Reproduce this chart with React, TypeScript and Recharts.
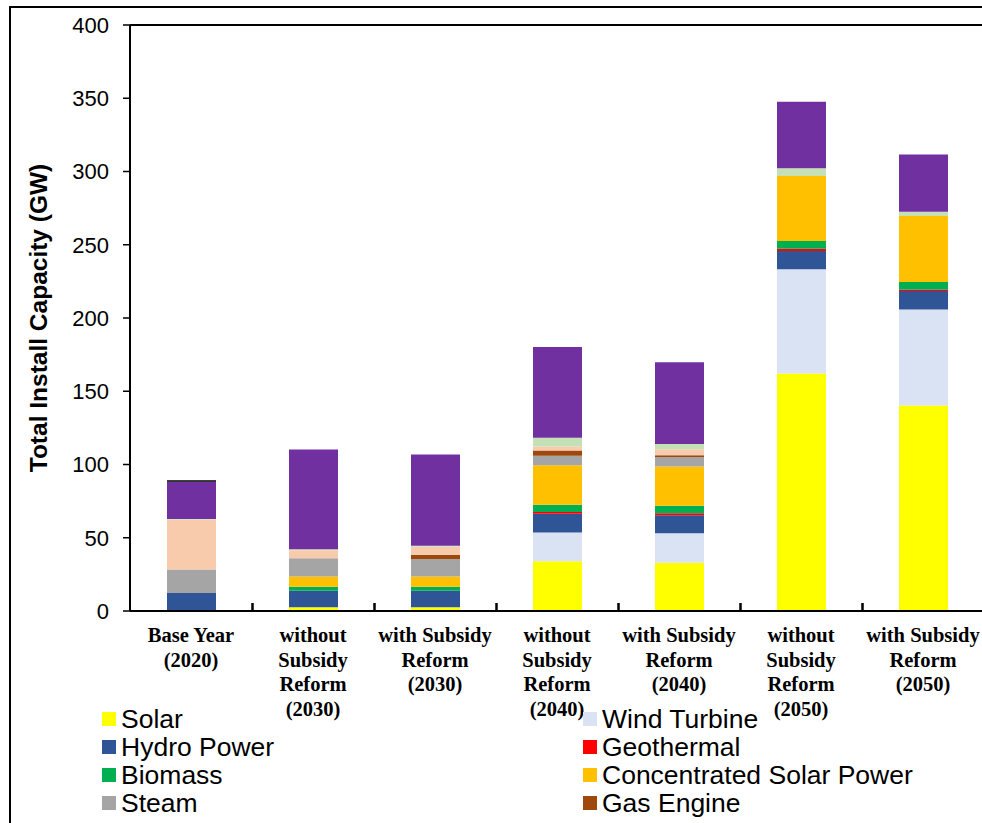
import React from "react";
import { BarChart, Bar, XAxis, YAxis, ReferenceLine, Label, Rectangle } from "recharts";

const categories = [
  "Base Year (2020)",
  "without Subsidy Reform (2030)",
  "with Subsidy Reform (2030)",
  "without Subsidy Reform (2040)",
  "with Subsidy Reform (2040)",
  "without Subsidy Reform (2050)",
  "with Subsidy Reform (2050)",
];
const categoryLines = [
  ["Base Year", "(2020)"],
  ["without", "Subsidy", "Reform", "(2030)"],
  ["with Subsidy", "Reform", "(2030)"],
  ["without", "Subsidy", "Reform", "(2040)"],
  ["with Subsidy", "Reform", "(2040)"],
  ["without", "Subsidy", "Reform", "(2050)"],
  ["with Subsidy", "Reform", "(2050)"],
];

const solar = [0.5, 2.5, 2.5, 34, 33, 162.1, 140.2];
const windTurbine = [0, 0, 0, 19.5, 20.1, 71.1, 65.6];
const hydroPower = [11.8, 11.4, 11.4, 12.8, 12.3, 12.5, 12.6];
const geothermal = [0, 0, 0, 1.3, 1.3, 1.6, 1.1];
const biomass = [0, 2.7, 2.7, 5, 5.2, 5.2, 5];
const concentratedSolar = [0, 6.9, 6.9, 26.9, 26.7, 44.5, 45.1];
const steam = [16, 12.5, 12, 6.4, 6.6, 0, 0];
const gasEngine = [0, 0, 2.7, 3.6, 1.1, 0, 0];
const combinedCycle = [34, 5.5, 5.7, 2.8, 4.1, 0, 0];
const diesel = [0.5, 0.7, 0.6, 5.9, 3.6, 5.2, 3];
const gasTurbine = [25.5, 68, 62.4, 62, 55.8, 45.4, 39];
const other = [1, 0, 0, 0, 0, 0, 0];

const yTicks = [0, 50, 100, 150, 200, 250, 300, 350, 400];

const series = [
  { key: "Solar", values: solar, color: "#FFFF00", legend: true },
  { key: "Wind Turbine", values: windTurbine, color: "#DAE3F3", legend: true },
  { key: "Hydro Power", values: hydroPower, color: "#2F5597", legend: true },
  { key: "Geothermal", values: geothermal, color: "#FF0000", legend: true },
  { key: "Biomass", values: biomass, color: "#00B050", legend: true },
  { key: "Concentrated Solar Power", values: concentratedSolar, color: "#FFC000", legend: true },
  { key: "Steam", values: steam, color: "#A5A5A5", legend: true },
  { key: "Gas Engine", values: gasEngine, color: "#9E480E", legend: true },
  { key: "Combined Cycle", values: combinedCycle, color: "#F8CBAD", legend: false },
  { key: "Diesel", values: diesel, color: "#C5E0B4", legend: false },
  { key: "Gas Turbine", values: gasTurbine, color: "#7030A0", legend: false },
  { key: "Other", values: other, color: "#000000", legend: false },
];

const data = categories.map((c, i) => {
  const row: Record<string, any> = { name: c };
  series.forEach((s) => {
    row[s.key] = s.values[i];
  });
  return row;
});

const CHART_W = 984;
const CHART_H = 823;
const Y_AXIS_W = 130;
const HALF_BAND = (CHART_W - Y_AXIS_W) / categories.length / 2;

// base bar shape that also draws the category-boundary tick at the axis
const BaseShape = (props: any) => {
  const { x, y, width, height, fill, index } = props;
  const cx = Number(x) + Number(width) / 2 + HALF_BAND;
  const bottom = Number(y) + Number(height);
  return (
    <g>
      <Rectangle x={x} y={y} width={width} height={height} fill={fill} />
      {index < categories.length - 1 ? (
        <rect x={cx - 1.25} y={bottom - 8} width={2.5} height={8} fill="#000" />
      ) : null}
    </g>
  );
};

const XTick = (props: any) => {
  const { x, y, payload, index } = props;
  const idx = payload && typeof payload.index === "number" ? payload.index : index;
  const lines = categoryLines[idx] || [String(payload.value)];
  return (
    <text
      x={x}
      y={y}
      textAnchor="middle"
      fontFamily="'Liberation Serif', 'Times New Roman', serif"
      fontWeight="bold"
      fontSize={20.5}
      fill="#000"
    >
      {lines.map((l: string, i: number) => (
        <tspan key={i} x={x} dy={i === 0 ? 31 : 24.5}>
          {l}
        </tspan>
      ))}
    </text>
  );
};

const legendLeft = series.filter((s, i) => s.legend && i % 2 === 0);
const legendRight = series.filter((s, i) => s.legend && i % 2 === 1);

const LegendColumn = ({ items, left }: { items: typeof series; left: number }) => (
  <div style={{ position: "absolute", left, top: 705 }}>
    {items.map((s) => (
      <div
        key={s.key}
        style={{ display: "flex", alignItems: "center", height: 28 }}
      >
        <div style={{ width: 14, height: 14, background: s.color, marginRight: 5 }} />
        <span
          style={{
            fontFamily: "'Liberation Sans', Arial, sans-serif",
            fontSize: 26.5,
            color: "#000",
            lineHeight: "28px",
            whiteSpace: "nowrap",
          }}
        >
          {s.key}
        </span>
      </div>
    ))}
  </div>
);

export default function App() {
  return (
    <div
      style={{
        position: "absolute",
        left: 0,
        top: 0,
        width: 982,
        height: 823,
        overflow: "hidden",
        background: "#fff",
      }}
    >
      <div
        style={{
          position: "absolute",
          left: 9,
          top: 6,
          width: 1100,
          height: 1000,
          border: "2px solid #000",
          boxSizing: "border-box",
        }}
      />
      <div style={{ position: "absolute", left: 0, top: 0 }}>
        <BarChart
          width={CHART_W}
          height={CHART_H}
          data={data}
          margin={{ top: 25, right: 0, left: 0, bottom: 0 }}
          barSize={49}
        >
          <XAxis
            dataKey="name"
            height={212}
            interval={0}
            tickLine={false}
            tickSize={0}
            tickMargin={0}
            axisLine={{ stroke: "#000", strokeWidth: 2 }}
            tick={XTick}
          />
          <YAxis
            width={Y_AXIS_W}
            domain={[0, 400]}
            ticks={yTicks}
            interval={0}
            tickSize={7}
            tickMargin={14}
            axisLine={{ stroke: "#000", strokeWidth: 2 }}
            tickLine={{ stroke: "#000", strokeWidth: 1.5 }}
            tick={{
              fill: "#000",
              fontSize: 22,
              fontFamily: "'Liberation Sans', Arial, sans-serif",
            }}
          >
            <Label
              value="Total Install Capacity (GW)"
              angle={-90}
              position="insideLeft"
              offset={38}
              style={{
                fontFamily: "'Liberation Sans', Arial, sans-serif",
                fontWeight: "bold",
                fontSize: 24.5,
                fill: "#000",
                textAnchor: "middle",
              }}
            />
          </YAxis>
          {series.map((s, i) => (
            <Bar
              key={s.key}
              dataKey={s.key}
              stackId="a"
              fill={s.color}
              isAnimationActive={false}
              legendType={s.legend ? "square" : "none"}
              shape={i === 0 ? BaseShape : undefined}
            />
          ))}
          <ReferenceLine y={400} stroke="#000" strokeWidth={2} ifOverflow="visible" />
        </BarChart>
      </div>
      <LegendColumn items={legendLeft} left={102} />
      <LegendColumn items={legendRight} left={583} />
    </div>
  );
}
